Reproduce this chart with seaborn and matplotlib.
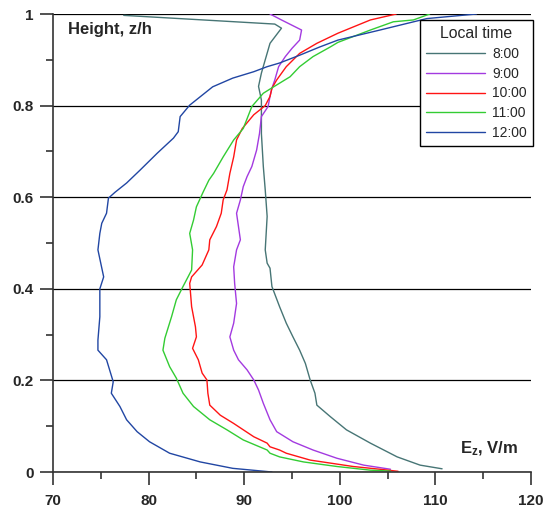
import numpy as np
import pandas as pd
import matplotlib
matplotlib.use("Agg")
import matplotlib.pyplot as plt
import seaborn as sns

times = ["8:00", "9:00", "10:00", "11:00", "12:00"]
colors = ["#477575", "#a33ae0", "#ff1414", "#33cc33", "#2146a3"]

ez_0800 = [110.7, 108.4, 106.0, 103.2, 100.7, 99.0, 97.6, 97.4, 96.9, 96.4, 95.8, 95.1, 94.4,
           93.7, 92.9, 92.7, 92.4, 92.2, 92.4, 92.2, 92.0, 91.8, 91.8, 91.8, 91.5, 91.8, 92.2,
           92.7, 93.9, 93.2, 77.4]
z_0800 = [0.007, 0.015, 0.033, 0.063, 0.092, 0.121, 0.146, 0.172, 0.201, 0.237, 0.266, 0.295, 0.325,
          0.361, 0.405, 0.445, 0.456, 0.485, 0.558, 0.616, 0.667, 0.739, 0.769, 0.812, 0.842, 0.871, 0.900,
          0.936, 0.969, 0.978, 0.997]

ez_0900 = [105.3, 102.5, 99.7, 97.2, 95.1, 93.4, 92.7, 92.0, 91.5, 91.0, 90.3, 89.4, 88.9, 88.5,
           88.9, 89.2, 89.0, 88.9, 89.2, 89.6, 89.4, 89.2, 89.6, 89.9, 90.3, 90.8, 91.3, 91.6,
           91.8, 92.5, 92.7, 92.9, 93.2, 93.6, 94.3, 95.0, 95.8, 96.0, 93.9, 92.7]
z_0900 = [0.006, 0.015, 0.030, 0.048, 0.066, 0.088, 0.114, 0.150, 0.179, 0.201, 0.223, 0.245, 0.266, 0.295,
          0.325, 0.368, 0.412, 0.448, 0.485, 0.507, 0.536, 0.565, 0.594, 0.623, 0.645, 0.667, 0.703, 0.739,
          0.776, 0.798, 0.820, 0.838, 0.856, 0.885, 0.907, 0.925, 0.943, 0.965, 0.987, 1.0]

ez_1000 = [106.1, 104.2, 101.4, 96.9, 94.4, 93.7, 92.7, 92.4, 91.0, 88.9, 87.5, 86.4, 86.2, 86.1,
           85.6, 85.2, 84.6, 85.0, 84.9, 84.5, 84.3, 84.5, 85.6, 86.3, 86.4, 87.1, 87.6, 87.8,
           88.2, 88.5, 88.9, 89.2, 89.8, 91.0, 92.2, 92.7, 92.9, 93.4, 94.4, 95.8, 97.6, 99.8,
           103.2, 105.9]
z_1000 = [0.0015, 0.006, 0.012, 0.026, 0.041, 0.048, 0.055, 0.063, 0.077, 0.106, 0.124, 0.146, 0.172, 0.201,
          0.216, 0.245, 0.270, 0.295, 0.317, 0.361, 0.412, 0.426, 0.452, 0.485, 0.507, 0.536, 0.565, 0.594,
          0.616, 0.652, 0.688, 0.725, 0.750, 0.780, 0.800, 0.820, 0.838, 0.856, 0.885, 0.914, 0.936, 0.958,
          0.987, 1.0]

ez_1100 = [105.3, 103.2, 99.7, 96.2, 93.7, 92.7, 92.4, 89.9, 88.2, 86.4, 84.7, 83.6, 82.9, 82.2,
           81.5, 81.7, 82.4, 82.9, 83.6, 84.5, 84.6, 84.3, 84.7, 85.0, 85.7, 86.3, 86.8, 87.8,
           88.9, 89.9, 90.8, 92.0, 93.0, 94.8, 95.8, 97.2, 99.0, 99.8, 103.2, 105.6, 107.7, 109.4]
z_1100 = [0.002, 0.004, 0.012, 0.022, 0.033, 0.041, 0.048, 0.070, 0.092, 0.114, 0.143, 0.172, 0.205, 0.230,
          0.266, 0.292, 0.339, 0.376, 0.405, 0.441, 0.485, 0.521, 0.550, 0.579, 0.611, 0.637, 0.652, 0.688,
          0.725, 0.750, 0.798, 0.827, 0.840, 0.863, 0.885, 0.907, 0.928, 0.938, 0.965, 0.983, 0.987, 1.0]

ez_1200 = [92.9, 88.8, 85.4, 82.2, 80.1, 78.8, 77.7, 77.0, 76.1, 76.3, 75.6, 74.7, 74.7, 74.9,
           74.9, 75.3, 74.7, 74.9, 75.1, 75.6, 75.8, 76.5, 77.7, 79.1, 80.9, 82.6, 83.1, 83.3,
           84.3, 86.7, 88.8, 91.0, 92.4, 93.7, 95.8, 97.9, 99.8, 104.2, 109.1, 114.3]
z_1200 = [0.0, 0.008, 0.022, 0.041, 0.066, 0.088, 0.114, 0.143, 0.172, 0.197, 0.245, 0.266, 0.288, 0.339,
          0.400, 0.426, 0.485, 0.521, 0.543, 0.565, 0.598, 0.611, 0.631, 0.659, 0.696, 0.729, 0.743, 0.776,
          0.801, 0.841, 0.860, 0.874, 0.885, 0.893, 0.910, 0.928, 0.943, 0.965, 0.990, 1.0]

series = [(ez_0800, z_0800), (ez_0900, z_0900), (ez_1000, z_1000), (ez_1100, z_1100), (ez_1200, z_1200)]
frames = []
for t, (ez, z) in zip(times, series):
    frames.append(pd.DataFrame({"Ez": ez, "z": z, "time": t}))
df = pd.concat(frames, ignore_index=True)

sns.set_style("ticks")
plt.rcParams["font.family"] = ["Liberation Sans", "DejaVu Sans"]
plt.rcParams["mathtext.fontset"] = "custom"
plt.rcParams["mathtext.rm"] = "Liberation Sans"
plt.rcParams["mathtext.bf"] = "Liberation Sans:bold"

fig = plt.figure(figsize=(5.45, 5.18), dpi=100)
ax = fig.add_axes([53 / 545, 1 - 472 / 518, 478 / 545, 458 / 518])

sns.lineplot(data=df, x="Ez", y="z", hue="time", hue_order=times, palette=colors,
             sort=False, estimator=None, linewidth=1.0, ax=ax)

ax.set_xlim(70, 120)
ax.set_ylim(0, 1)
ax.set_xticks([70, 80, 90, 100, 110, 120])
ax.set_xticks([75, 85, 95, 105, 115], minor=True)
ax.set_yticks([0, 0.2, 0.4, 0.6, 0.8, 1.0])
ax.set_yticklabels(["0", "0.2", "0.4", "0.6", "0.8", "1"])
ax.set_yticks([0.1, 0.3, 0.5, 0.7, 0.9], minor=True)
ax.set_xlabel("")
ax.set_ylabel("")

for lbl in ax.get_xticklabels() + ax.get_yticklabels():
    lbl.set_fontweight("bold")
    lbl.set_fontsize(11)
ax.tick_params(which="major", length=9.4, width=1.2, color="#333333")
ax.tick_params(which="minor", length=5, width=1.2, color="#333333")
ax.tick_params(axis="x", which="major", pad=6.5)
ax.tick_params(axis="y", which="major", pad=4.5)

ax.yaxis.grid(True, which="major", color="black", linewidth=0.9)
ax.set_axisbelow(True)
sns.despine(ax=ax, top=True, right=True)
for s in ["left", "bottom"]:
    ax.spines[s].set_linewidth(1.2)
    ax.spines[s].set_color("#333333")

ax.text(71.55, 0.957, "Height, z/h", fontweight="bold", fontsize=12, va="baseline", ha="left")
ax.text(112.6, 0.040, r"$\mathbf{E_z}$, V/m", fontweight="bold", fontsize=12, va="baseline", ha="left")

handles, labels = ax.get_legend_handles_labels()
leg = ax.legend(handles, labels, title="Local time", loc="upper right",
                bbox_to_anchor=(1.004, 0.987), borderaxespad=0, frameon=True, fancybox=False,
                edgecolor="black", fontsize=10, title_fontsize=11.4,
                handlelength=4.3, handletextpad=0.5, labelspacing=0.42,
                borderpad=0.43, framealpha=1)
leg.get_frame().set_linewidth(1.0)

fig.savefig("out.png", dpi=100)
